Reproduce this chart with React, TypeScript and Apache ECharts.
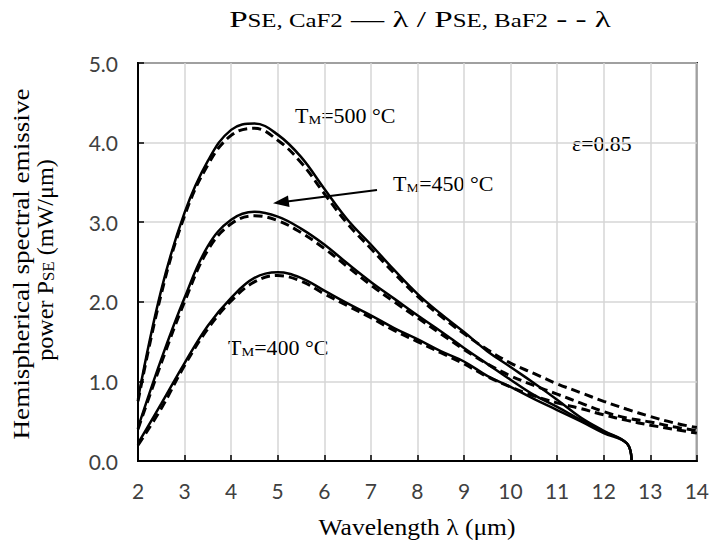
import React, { useEffect, useRef } from "react";
import * as echarts from "echarts";

// Wavelength samples (μm)
const lambdaSolid = [2, 2.5, 3, 3.5, 4, 4.5, 5, 5.5, 6, 6.5, 7, 7.5, 8, 8.5, 9, 9.5, 10, 10.5, 11, 11.5, 12, 12.5, 12.6];
const lambdaDashed = [2, 2.5, 3, 3.5, 4, 4.5, 5, 5.5, 6, 6.5, 7, 7.5, 8, 8.5, 9, 9.5, 10, 10.5, 11, 11.5, 12, 12.5, 13, 13.5, 14];

// P_SE, CaF2 (solid)
const caf2_500 = [0.78, 2.15, 3.12, 3.77, 4.16, 4.24, 4.1, 3.82, 3.42, 3.03, 2.72, 2.4, 2.1, 1.85, 1.62, 1.38, 1.18, 0.98, 0.77, 0.55, 0.38, 0.22, 0];
const caf2_450 = [0.42, 1.28, 2.05, 2.7, 3.03, 3.13, 3.07, 2.92, 2.72, 2.48, 2.25, 2.04, 1.83, 1.63, 1.42, 1.22, 1.02, 0.83, 0.68, 0.52, 0.37, 0.22, 0];
const caf2_400 = [0.22, 0.72, 1.23, 1.7, 2.05, 2.3, 2.37, 2.3, 2.14, 1.98, 1.83, 1.67, 1.53, 1.38, 1.25, 1.07, 0.93, 0.78, 0.64, 0.5, 0.35, 0.22, 0];

// P_SE, BaF2 (dashed)
const baf2_500 = [0.75, 2.1, 3.08, 3.72, 4.09, 4.18, 4.03, 3.75, 3.36, 2.98, 2.67, 2.36, 2.07, 1.82, 1.6, 1.4, 1.23, 1.1, 0.97, 0.86, 0.75, 0.65, 0.56, 0.48, 0.42];
const baf2_450 = [0.4, 1.23, 2.0, 2.65, 2.98, 3.08, 3.02, 2.87, 2.67, 2.44, 2.21, 2.0, 1.8, 1.6, 1.4, 1.22, 1.07, 0.95, 0.84, 0.73, 0.62, 0.54, 0.49, 0.43, 0.38];
const baf2_400 = [0.2, 0.66, 1.2, 1.66, 2.01, 2.25, 2.33, 2.26, 2.1, 1.95, 1.8, 1.64, 1.5, 1.36, 1.22, 1.06, 0.93, 0.82, 0.73, 0.66, 0.58, 0.51, 0.45, 0.4, 0.35];

const SERIF = "'Liberation Serif', serif";
const SANS = "Lato, 'Open Sans', sans-serif";

const pairs = (xs: number[], ys: number[]) => xs.map((x, i) => [x, ys[i]]);

export default function App() {
  const ref = useRef<HTMLDivElement>(null);
  useEffect(() => {
    const chart = echarts.init(ref.current!, null, { renderer: "svg" });
    const solid = (name: string, ys: number[]) => ({
      name,
      type: "line",
      data: pairs(lambdaSolid, ys),
      showSymbol: false,
      smooth: 0.4,
      lineStyle: { color: "#000", width: 2.5 },
      z: 3,
    });
    const dashed = (name: string, ys: number[]) => ({
      name,
      type: "line",
      data: pairs(lambdaDashed, ys),
      showSymbol: false,
      smooth: 0.4,
      lineStyle: { color: "#000", width: 3, type: [9, 5] },
      z: 2,
    });
    const tmRich = {
      a: { fontFamily: SERIF, fontSize: 20, color: "#000", verticalAlign: "bottom", lineHeight: 22 },
      b: { fontFamily: SERIF, fontSize: 13, color: "#000", verticalAlign: "bottom", lineHeight: 18 },
    };
    const tmText = (x: number, y: number, t: string) => ({
      type: "text",
      x,
      y,
      scaleX: 1.1,
      style: {
        text: `{a|T}{b|M}{a|=${t} °C}`,
        rich: tmRich,
        textAlign: "left",
        textVerticalAlign: "middle",
      },
    });
    const titleRich = {
      p: { fontFamily: SERIF, fontSize: 24, color: "#000", verticalAlign: "bottom", lineHeight: 27 },
      s: { fontFamily: SERIF, fontSize: 18, color: "#000", verticalAlign: "bottom", lineHeight: 23 },
    };
    const nameRich = {
      p: { fontFamily: SERIF, fontSize: 23, color: "#000", verticalAlign: "bottom", lineHeight: 26 },
      s: { fontFamily: SERIF, fontSize: 16, color: "#000", verticalAlign: "bottom", lineHeight: 21 },
    };
    chart.setOption({
      animation: false,
      backgroundColor: "#fff",
      grid: {
        left: 138,
        right: 15,
        top: 63,
        bottom: 87,
        show: true,
        borderColor: "#000",
        borderWidth: 2,
      },
      xAxis: {
        type: "value",
        min: 2,
        max: 14,
        interval: 1,
        axisLine: { show: true, lineStyle: { color: "#000", width: 2 } },
        axisTick: { show: true, inside: true, length: 6, lineStyle: { color: "#000", width: 1.5 } },
        axisLabel: { color: "#404040", fontSize: 21, fontFamily: SANS, margin: 19 },
        splitLine: { show: true, lineStyle: { color: "#d6d6d6", width: 1.5 } },
      },
      yAxis: {
        type: "value",
        min: 0,
        max: 5,
        interval: 1,
        axisLine: { show: true, lineStyle: { color: "#000", width: 2 } },
        axisTick: { show: true, inside: true, length: 6, lineStyle: { color: "#000", width: 1.5 } },
        axisLabel: {
          color: "#404040",
          fontSize: 21,
          fontFamily: SANS,
          margin: 20,
          formatter: (v: number) => v.toFixed(1),
        },
        splitLine: { show: true, lineStyle: { color: "#d6d6d6", width: 1.5 } },
      },
      series: [
        dashed("BaF2 500", baf2_500),
        dashed("BaF2 450", baf2_450),
        dashed("BaF2 400", baf2_400),
        solid("CaF2 500", caf2_500),
        solid("CaF2 450", caf2_450),
        solid("CaF2 400", caf2_400),
      ],
      graphic: [
        {
          type: "text",
          x: 420,
          y: 17,
          scaleX: 1.38,
          style: {
            text: "{p|P}{s|SE, CaF2}{p| — λ / P}{s|SE, BaF2}{p| - - λ}",
            rich: titleRich,
            textAlign: "center",
            textVerticalAlign: "middle",
          },
        },
        {
          type: "text",
          x: 417,
          y: 527,
          scaleX: 1.11,
          style: {
            text: "Wavelength λ (μm)",
            font: `23px ${SERIF}`,
            fill: "#000",
            textAlign: "center",
            textVerticalAlign: "middle",
          },
        },
        {
          type: "text",
          x: 21,
          y: 264,
          rotation: Math.PI / 2,
          scaleX: 1.18,
          style: {
            text: "Hemispherical spectral emissive",
            font: `23px ${SERIF}`,
            fill: "#000",
            textAlign: "center",
            textVerticalAlign: "middle",
          },
        },
        {
          type: "text",
          x: 44,
          y: 260,
          rotation: Math.PI / 2,
          scaleX: 1.05,
          style: {
            text: "{p|power P}{s|SE}{p| (mW/μm)}",
            rich: nameRich,
            textAlign: "center",
            textVerticalAlign: "middle",
          },
        },
        tmText(295, 115, "500"),
        tmText(393, 183, "450"),
        tmText(228, 347, "400"),
        {
          type: "text",
          x: 572,
          y: 144,
          scaleX: 1.09,
          style: {
            text: "ε=0.85",
            font: `20px ${SERIF}`,
            fill: "#000",
            textAlign: "left",
            textVerticalAlign: "middle",
          },
        },
        {
          type: "line",
          shape: { x1: 377, y1: 190, x2: 285, y2: 201.8 },
          style: { stroke: "#000", lineWidth: 2 },
          z: 10,
        },
        {
          type: "polygon",
          shape: { points: [[273, 203.3], [288, 195.5], [289.5, 207]] },
          style: { fill: "#000" },
          z: 10,
        },
      ],
    });
    return () => chart.dispose();
  }, []);
  return (
    <div
      ref={ref}
      style={{ position: "absolute", left: 0, top: 0, width: 712, height: 548 }}
    />
  );
}
